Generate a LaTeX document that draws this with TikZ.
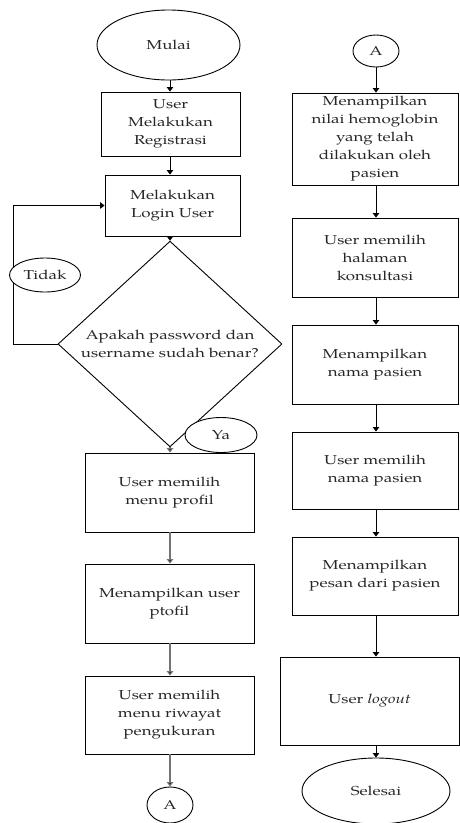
\documentclass[tikz,border=0pt]{standalone}
\usepackage{fontspec}
\setmainfont[FakeStretch=1.3]{TeX Gyre Pagella}
\usetikzlibrary{shapes.geometric,arrows.meta}

\begin{document}
\begin{tikzpicture}[x=1pt,y=-1pt,
  txt/.style={font=\fontsize{13}{18}\selectfont, text=black!85},
  box/.style={txt, draw, line width=0.9pt, inner sep=0pt, align=center},
  oval/.style={txt, draw, ellipse, line width=0.9pt, inner sep=0pt, fill=white},
  diam/.style={txt, draw, diamond, line width=0.9pt, inner sep=0pt, align=center},
  flow/.style={-{Triangle[length=4.5pt,width=6.5pt,fill=black]}, line width=1pt},
  flowg/.style={-{Triangle[length=4.5pt,width=6.5pt,fill=black]}, line width=2pt, draw=black!55},
]
\clip (0,0) rectangle (460,823);

% left column
\node[oval, minimum width=143pt, minimum height=70pt] (mulai) at (168.5,45) {Mulai};
\node[box, minimum width=139pt, minimum height=64pt] (reg) at (170.5,124) {User\\Melakukan\\Registrasi};
\node[box, minimum width=135pt, minimum height=61pt] (login) at (172.5,205.5) {Melakukan\\Login User};
\node[diam, minimum width=224pt, minimum height=178pt] (cek) at (170,344) {Apakah password dan\\username sudah benar?};
\node[box, minimum width=169pt, minimum height=79pt] (profil) at (169.5,492.5) {User memilih\\menu profil};
\node[box, minimum width=169pt, minimum height=79pt] (tampil) at (169.5,603.5) {Menampilkan user\\ptofil};
\node[box, minimum width=169pt, minimum height=78pt] (riwayat) at (169.5,715) {User memilih\\menu riwayat\\pengukuran};
\node[oval, minimum width=46pt, minimum height=36pt] (a1) at (170,805) {A};

% right column
\node[oval, minimum width=46pt, minimum height=32pt] (a2) at (376,51) {A};
\node[box, minimum width=166pt, minimum height=92pt] (hb) at (375,139) {Menampilkan\\nilai hemoglobin\\yang telah\\dilakukan oleh\\pasien};
\node[box, minimum width=166pt, minimum height=79pt] (kons) at (375,257.5) {User memilih\\halaman\\konsultasi};
\node[box, minimum width=166pt, minimum height=79pt] (nama) at (375,364.5) {Menampilkan\\nama pasien};
\node[box, minimum width=166pt, minimum height=77pt] (pilih) at (375,470.5) {User memilih\\nama pasien};
\node[box, minimum width=166pt, minimum height=78pt] (pesan) at (375,576) {Menampilkan\\pesan dari pasien};
\node[box, minimum width=179pt, minimum height=88pt] (logout) at (369.5,701) {User \textit{logout}};
\node[oval, minimum width=148pt, minimum height=66pt] (selesai) at (376,791) {Selesai};

% connectors, left
\coordinate (lx) at (170,0);
\draw[flow] (mulai.south -| lx) -- (reg.north -| lx);
\draw[flow] (reg.south -| lx) -- (login.north -| lx);
\draw[flow] (login.south -| lx) -- (cek.north);
\coordinate (loopx) at (13,0);
\draw[flow] (cek.west) -- (cek.west -| loopx) -- (login.west -| loopx) -- (login.west);
\draw[flowg] (cek.south) -- (profil.north -| lx);
\draw[flowg] (profil.south -| lx) -- (tampil.north -| lx);
\draw[flowg] (tampil.south -| lx) -- (riwayat.north -| lx);
\draw[flowg] (riwayat.south -| lx) -- (a1.north);

% branch labels
\node[oval, minimum width=71pt, minimum height=34pt] (tidak) at (45,275) {Tidak};
\node[oval, minimum width=72pt, minimum height=35pt] (ya) at (221,435) {Ya};

% connectors, right
\coordinate (rx) at (376,0);
\draw[flow] (a2.south) -- (hb.north -| rx);
\draw[flow] (hb.south -| rx) -- (kons.north -| rx);
\draw[flow] (kons.south -| rx) -- (nama.north -| rx);
\draw[flow] (nama.south -| rx) -- (pilih.north -| rx);
\draw[flow] (pilih.south -| rx) -- (pesan.north -| rx);
\draw[flow] (pesan.south -| rx) -- (logout.north -| rx);
\draw[flow] (logout.south -| rx) -- (selesai.north);
\end{tikzpicture}
\end{document}
